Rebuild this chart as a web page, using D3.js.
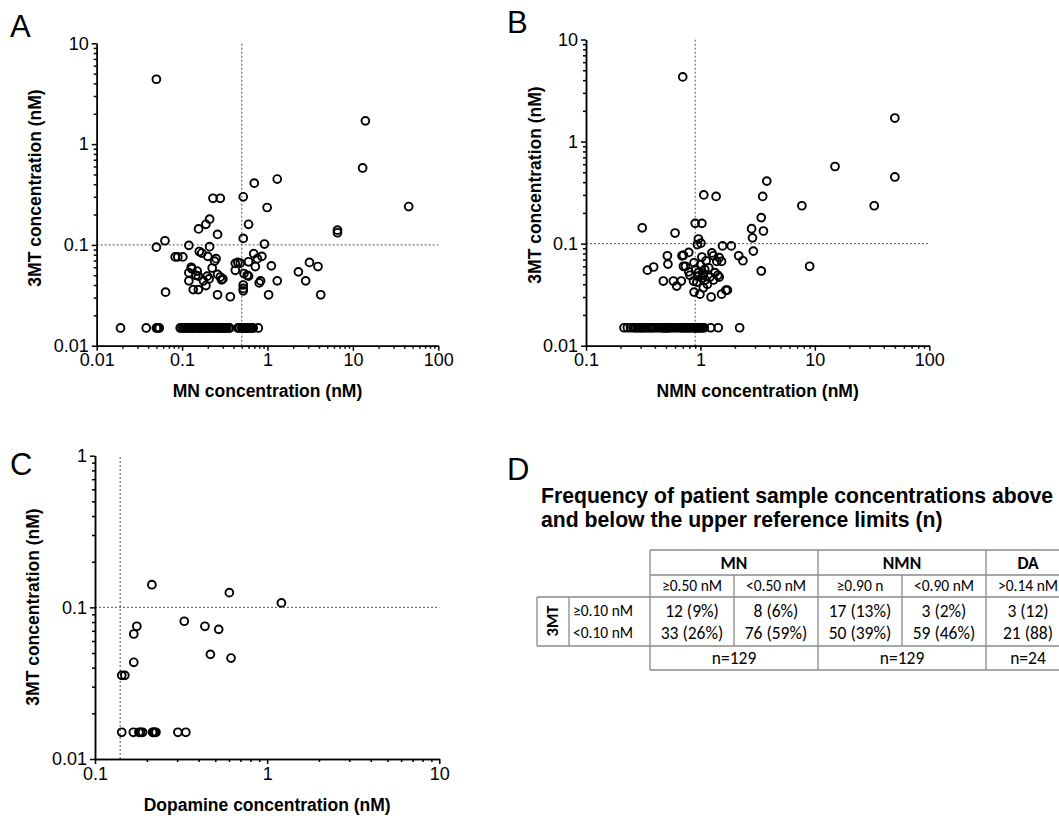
<!DOCTYPE html>
<html>
<head>
<meta charset="utf-8">
<script src="https://cdn.jsdelivr.net/npm/d3@7"></script>
<style>
  body { margin: 0; background: #fff; }
  svg { display: block; }
  svg text { font-family: "Liberation Sans", Arial, sans-serif; fill: #000; }
  .axis path, .axis line { stroke: #000; stroke-width: 1.5; }
  .title { font-size: 17.5px; font-weight: bold; }
  .panel-letter { font-size: 31px; }
  .ref { stroke: #555; stroke-width: 1; stroke-dasharray: 2,2; fill: none; }
  .dot { fill: none; stroke: #000; stroke-width: 1.9; }
  .grid line { stroke: #8a8a8a; stroke-width: 1.3; }
  svg text.tbl { font-family: Carlito, Calibri, Lato, sans-serif; }
</style>
</head>
<body>
<div id="chart"></div>
<script>
// 3MT vs MN (nM)
var mnPoints = [
  [0.05, 4.4], [14, 1.7], [13, 0.58], [45, 0.24], [1.3, 0.45], [0.70, 0.41],
  [0.23, 0.29], [0.28, 0.29], [0.52, 0.30], [0.99, 0.235], [0.21, 0.18], [0.19, 0.16],
  [0.156, 0.144], [0.60, 0.16], [0.26, 0.127], [6.6, 0.14], [6.6, 0.132], [0.52, 0.116],
  [0.063, 0.11], [0.92, 0.102],
  [0.05, 0.095], [0.12, 0.099], [0.21, 0.096], [0.083, 0.076], [0.089, 0.076], [0.102, 0.076],
  [0.159, 0.086], [0.17, 0.083], [0.20, 0.077], [0.25, 0.073], [0.24, 0.069], [0.225, 0.059],
  [0.128, 0.060], [0.13, 0.058], [0.12, 0.053], [0.15, 0.055], [0.145, 0.050], [0.155, 0.049],
  [0.12, 0.044], [0.178, 0.044], [0.197, 0.049], [0.207, 0.046], [0.19, 0.0395], [0.135, 0.036],
  [0.155, 0.036], [0.26, 0.051], [0.28, 0.048], [0.30, 0.046], [0.29, 0.045], [0.26, 0.032],
  [0.367, 0.0306], [0.064, 0.034], [0.42, 0.0656], [0.45, 0.067], [0.48, 0.066], [0.42, 0.056],
  [0.53, 0.052], [0.58, 0.050], [0.60, 0.049], [0.52, 0.040], [0.52, 0.037], [0.52, 0.035],
  [0.60, 0.068], [0.69, 0.082], [0.76, 0.073], [0.86, 0.077], [0.72, 0.061], [0.80, 0.042],
  [0.83, 0.044], [1.11, 0.062], [1.03, 0.032], [1.30, 0.044], [2.30, 0.054], [2.8, 0.044],
  [3.1, 0.067], [3.9, 0.061], [4.2, 0.032]
];
// values below the limit of quantitation, plotted at 0.015 nM
var mnLow = [
  0.019, 0.038, 0.050, 0.052, 0.054, 0.45, 0.47,
  0.095, 0.10, 0.105, 0.11, 0.115, 0.12, 0.125, 0.13, 0.135, 0.14, 0.15,
  0.155, 0.16, 0.17, 0.175, 0.18, 0.19, 0.2, 0.21, 0.22, 0.23, 0.24,
  0.25, 0.26, 0.27, 0.28, 0.29, 0.30, 0.31, 0.32, 0.33, 0.35, 0.36,
  0.50, 0.52, 0.53, 0.55, 0.56, 0.58, 0.60, 0.62, 0.64, 0.66, 0.68, 0.78
];

// 3MT vs NMN (nM)
var nmnPoints = [
  [0.70, 4.3], [50, 1.7], [50, 0.45], [15, 0.57], [33, 0.235], [7.7, 0.235], [9, 0.060],
  [3.8, 0.41], [3.5, 0.29], [1.07, 0.30], [1.37, 0.29], [3.4, 0.18], [2.8, 0.14], [3.55, 0.133],
  [2.85, 0.114], [2.9, 0.0845], [3.4, 0.054], [0.31, 0.143], [0.60, 0.127], [0.90, 0.158],
  [1.03, 0.158], [0.96, 0.111], [1.01, 0.101], [0.94, 0.098], [1.56, 0.095], [1.86, 0.095],
  [2.16, 0.076], [2.35, 0.068], [0.344, 0.055], [0.39, 0.059], [0.514, 0.076], [0.52, 0.063],
  [0.474, 0.043], [0.58, 0.043], [0.62, 0.0384], [0.68, 0.043], [0.69, 0.076], [0.71, 0.077],
  [0.79, 0.082], [0.71, 0.060], [0.74, 0.060], [0.79, 0.053], [0.81, 0.049], [0.88, 0.065],
  [0.87, 0.043], [0.88, 0.0335], [0.99, 0.032], [0.96, 0.052], [1.03, 0.074], [1.06, 0.049],
  [1.09, 0.056], [1.12, 0.068], [1.15, 0.040], [1.06, 0.037], [1.21, 0.047], [1.26, 0.081],
  [1.30, 0.076], [1.39, 0.067], [1.46, 0.073], [1.53, 0.067], [1.42, 0.049], [1.46, 0.047],
  [1.24, 0.030], [1.53, 0.032], [1.67, 0.035], [1.72, 0.035], [1.30, 0.044], [0.91, 0.056],
  [0.95, 0.048], [1.03, 0.046], [1.0, 0.062], [1.1, 0.044], [0.93, 0.042], [1.18, 0.058],
  [1.34, 0.052], [1.05, 0.051]
];
var nmnLow = [
  0.215, 0.23, 0.245, 0.26, 0.27, 0.28, 0.29, 0.30, 0.31, 0.32, 0.33, 0.345,
  0.36, 0.37, 0.385, 0.40, 0.42, 0.44, 0.46, 0.47, 0.48, 0.49, 0.50, 0.51,
  0.52, 0.53, 0.55, 0.57, 0.60, 0.63, 0.66, 0.68, 0.70, 0.72, 0.74, 0.76,
  0.78, 0.80, 0.83, 0.86, 0.88,
  0.90, 0.92, 0.94, 0.96, 0.98, 1.0, 1.02, 1.05, 1.08, 1.23, 1.43, 2.2
];

// 3MT vs dopamine (nM)
var daPoints = [
  [0.214, 0.141], [0.603, 0.125], [1.21, 0.107], [0.330, 0.081], [0.435, 0.075],
  [0.523, 0.0716], [0.468, 0.049], [0.617, 0.0463], [0.175, 0.075], [0.168, 0.0667],
  [0.168, 0.0434], [0.143, 0.0356], [0.149, 0.0356]
];
var daLow = [0.143, 0.167, 0.180, 0.184, 0.189, 0.216, 0.219, 0.222, 0.226, 0.303, 0.337];
var lowValue = 0.015;

// upper reference limits
var mnLimit = 0.50, nmnLimit = 0.90, daLimit = 0.14, mtLimit = 0.10;

// tick labels
var yTicksAB = [0.01, 0.1, 1, 10];
var yTicksC = [0.01, 0.1, 1];
var xTicksA = [0.01, 0.1, 1, 10, 100];
var xTicksB = [0.1, 1, 10, 100];
var xTicksC = [0.1, 1, 10];

// table D
var tableTitle = ["Frequency of patient sample concentrations above",
                  "and below the upper reference limits (n)"];
var colGroups = ["MN", "NMN", "DA"];
var colLimits = ["\u22650.50 nM", "<0.50 nM", "\u22650.90 n", "<0.90 nM", ">0.14 nM"];
var rowLimits = ["\u22650.10 nM", "<0.10 nM"];
var rowAbove = ["12 (9%)", "8 (6%)", "17 (13%)", "3 (2%)", "3 (12)"];
var rowBelow = ["33 (26%)", "76 (59%)", "50 (39%)", "59 (46%)", "21 (88)"];
var groupTotals = ["n=129", "n=129", "n=24"];

var W = 1059, H = 816;
var svg = d3.select("#chart").append("svg")
    .attr("width", W)
    .attr("height", H);

function fmt(d) { return String(d); }

function minorTicks(domain) {
    var out = [];
    var lo = Math.round(Math.log10(domain[0])), hi = Math.round(Math.log10(domain[1]));
    for (var e = lo; e < hi; e++) {
        for (var k = 2; k <= 9; k++) out.push(+(k * Math.pow(10, e)).toPrecision(3));
    }
    return out;
}

function styleAxis(sel) {
    sel.selectAll("text")
        .style("font-family", "'Liberation Sans', Arial, sans-serif")
        .style("font-size", "18px");
}

function scatter(p) {
    var x = d3.scaleLog().domain(p.xDomain).range([p.left, p.right]);
    var y = d3.scaleLog().domain(p.yDomain).range([p.bottom, p.top]);
    var g = svg.append("g");

    // reference lines
    g.append("line").attr("class", "ref")
        .attr("x1", x(p.xLimit)).attr("x2", x(p.xLimit))
        .attr("y1", y(p.yDomain[0])).attr("y2", y(p.yDomain[1]));
    g.append("line").attr("class", "ref")
        .attr("x1", x(p.xDomain[0])).attr("x2", x(p.xDomain[1]))
        .attr("y1", y(mtLimit)).attr("y2", y(mtLimit));

    var pts = p.points.concat(p.low.map(function(v) { return [v, lowValue]; }));
    g.selectAll("circle.dot")
        .data(pts)
        .enter().append("circle")
        .attr("class", "dot")
        .attr("cx", function(d) { return x(d[0]); })
        .attr("cy", function(d) { return y(d[1]); })
        .attr("r", 3.9);

    // axes: minor ticks then major ticks with labels
    g.append("g").attr("class", "axis")
        .attr("transform", "translate(0," + p.bottom + ")")
        .call(d3.axisBottom(x).tickValues(minorTicks(p.xDomain)).tickSize(3).tickSizeOuter(0).tickFormat(""));
    g.append("g").attr("class", "axis")
        .attr("transform", "translate(0," + p.bottom + ")")
        .call(d3.axisBottom(x).tickValues(p.xTicks).tickSize(5).tickSizeOuter(0).tickPadding(3).tickFormat(fmt))
        .call(styleAxis);
    g.append("g").attr("class", "axis")
        .attr("transform", "translate(" + p.left + ",0)")
        .call(d3.axisLeft(y).tickValues(minorTicks(p.yDomain)).tickSize(3).tickSizeOuter(0).tickFormat(""));
    g.append("g").attr("class", "axis")
        .attr("transform", "translate(" + p.left + ",0)")
        .call(d3.axisLeft(y).tickValues(p.yTicks).tickSize(5).tickSizeOuter(0).tickPadding(3).tickFormat(fmt))
        .call(styleAxis);

    g.append("text").attr("class", "title")
        .attr("x", (p.left + p.right) / 2).attr("y", p.xTitleY)
        .attr("text-anchor", "middle")
        .text(p.xTitle);
    g.append("text").attr("class", "title")
        .attr("transform", "translate(" + p.yTitleX + "," + p.yTitleY + ") rotate(-90)")
        .attr("text-anchor", "middle")
        .text("3MT concentration (nM)");

    svg.append("text").attr("class", "panel-letter")
        .attr("x", p.letter[0]).attr("y", p.letter[1])
        .text(p.name);
}

scatter({
    name: "A", letter: [10, 37],
    points: mnPoints, low: mnLow, xLimit: mnLimit,
    xDomain: [0.01, 100], yDomain: [0.01, 10], xTicks: xTicksA, yTicks: yTicksAB,
    left: 96.7, right: 438.3, top: 43.3, bottom: 345.7,
    xTitle: "MN concentration (nM)", xTitleY: 397, yTitleX: 41, yTitleY: 188
});
scatter({
    name: "B", letter: [507, 33],
    points: nmnPoints, low: nmnLow, xLimit: nmnLimit,
    xDomain: [0.1, 100], yDomain: [0.01, 10], xTicks: xTicksB, yTicks: yTicksAB,
    left: 586, right: 929.3, top: 39.5, bottom: 345.7,
    xTitle: "NMN concentration (nM)", xTitleY: 397, yTitleX: 541, yTitleY: 185
});
scatter({
    name: "C", letter: [10, 475],
    points: daPoints, low: daLow, xLimit: daLimit,
    xDomain: [0.1, 10], yDomain: [0.01, 1], xTicks: xTicksC, yTicks: yTicksC,
    left: 95, right: 439.3, top: 455.7, bottom: 759,
    xTitle: "Dopamine concentration (nM)", xTitleY: 811, yTitleX: 39, yTitleY: 607
});

// ---- panel D: table ----
svg.append("text").attr("class", "panel-letter").attr("x", 507).attr("y", 480).text("D");

svg.append("g").selectAll("text")
    .data(tableTitle)
    .enter().append("text")
    .attr("x", 541)
    .attr("y", function(d, i) { return 503 + i * 24; })
    .style("font-size", "21.2px").style("font-weight", "bold")
    .text(function(d) { return d; });

var colX = [537, 569, 650, 734, 818, 902, 986, 1060];
var rowY = [550, 575, 597, 646, 670];
var grid = svg.append("g").attr("class", "grid");
var hLines = [
    [colX[2], colX[7], rowY[0]], [colX[2], colX[7], rowY[1]], [colX[0], colX[7], rowY[2]],
    [colX[0], colX[7], rowY[3]], [colX[2], colX[7], rowY[4]]
];
var vLines = [
    [colX[0], rowY[2], rowY[3]], [colX[1], rowY[2], rowY[3]], [colX[2], rowY[0], rowY[4]],
    [colX[3], rowY[1], rowY[3]], [colX[4], rowY[0], rowY[4]], [colX[5], rowY[1], rowY[3]],
    [colX[6], rowY[0], rowY[4]]
];
grid.selectAll("line.h").data(hLines).enter().append("line")
    .attr("x1", function(d) { return d[0]; }).attr("x2", function(d) { return d[1]; })
    .attr("y1", function(d) { return d[2]; }).attr("y2", function(d) { return d[2]; });
grid.selectAll("line.v").data(vLines).enter().append("line")
    .attr("x1", function(d) { return d[0]; }).attr("x2", function(d) { return d[0]; })
    .attr("y1", function(d) { return d[1]; }).attr("y2", function(d) { return d[2]; });

var daCenter = 1028;
var groupX = [(colX[2] + colX[4]) / 2, (colX[4] + colX[6]) / 2, daCenter];
var subX = [(colX[2] + colX[3]) / 2, (colX[3] + colX[4]) / 2, (colX[4] + colX[5]) / 2,
            (colX[5] + colX[6]) / 2, daCenter];

function cellText(arr, xs, yc, size, bold) {
    svg.append("g").selectAll("text")
        .data(arr)
        .enter().append("text")
        .attr("class", "tbl")
        .attr("x", function(d, i) { return xs[i]; })
        .attr("y", yc)
        .attr("dy", "0.35em")
        .attr("text-anchor", "middle")
        .style("font-size", size + "px")
        .style("font-weight", bold ? "bold" : "normal")
        .text(function(d) { return d; });
}
cellText(colGroups, groupX, 562.5, 17.5, true);
cellText(colLimits, subX, 586, 15.5, false);
cellText(rowAbove, subX, 610.5, 17.5, false);
cellText(rowBelow, subX, 633, 17.5, false);
cellText(groupTotals, groupX, 658, 17.5, false);

svg.append("g").selectAll("text")
    .data(rowLimits)
    .enter().append("text")
    .attr("class", "tbl")
    .attr("x", 573)
    .attr("y", function(d, i) { return 610.5 + i * 22.5; })
    .attr("dy", "0.35em")
    .style("font-size", "15.5px")
    .text(function(d) { return d; });

svg.append("text").attr("class", "tbl")
    .attr("transform", "translate(552,621) rotate(-90)")
    .attr("text-anchor", "middle")
    .attr("dy", "0.35em")
    .style("font-size", "16.5px").style("font-weight", "bold")
    .text("3MT");
</script>
</body>
</html>
